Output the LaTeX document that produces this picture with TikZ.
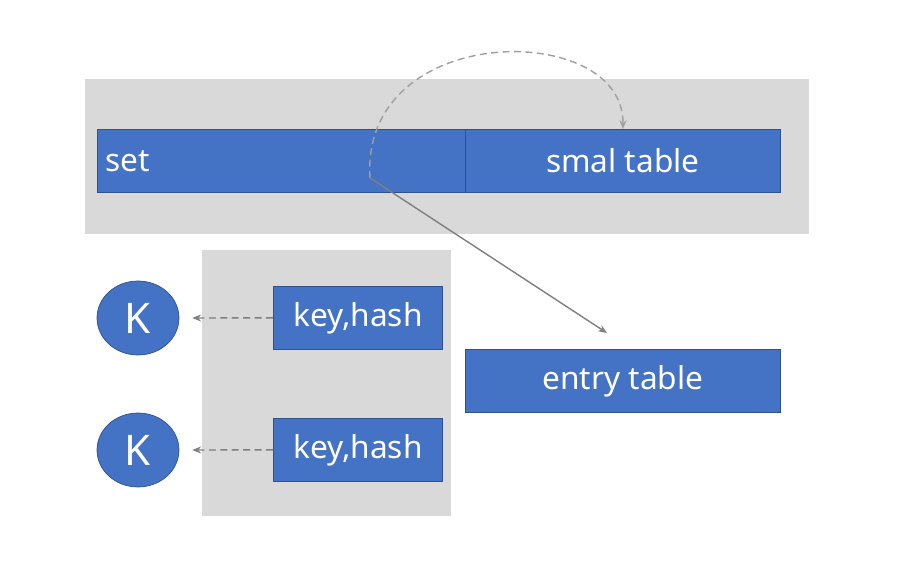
\documentclass[tikz,border=0pt]{standalone}
\usepackage{fontspec}
\setmainfont{Noto Sans}
\usetikzlibrary{calc,shapes.geometric,arrows.meta}
\definecolor{boxblue}{HTML}{4472C4}
\definecolor{boxline}{HTML}{2F528F}
\definecolor{panel}{HTML}{D9D9D9}
\definecolor{link}{HTML}{7F7F7F}
\definecolor{linklight}{HTML}{A0A0A0}
\tikzset{
  cell/.style={draw=boxline,fill=boxblue,text=white,inner sep=0pt,minimum height=1.26cm,
    font=\fontsize{18}{22}\selectfont,anchor=north west},
  keynode/.style={ellipse,draw=boxline,fill=boxblue,text=white,inner sep=0pt,
    minimum width=1.64cm,minimum height=1.48cm,font=\fontsize{24}{28}\selectfont},
  pointer/.style={link,thick,-{Stealth[length=5pt,width=4pt]}},
  backptr/.style={linklight,thick,dash pattern=on 4pt off 2.5pt,-{Stealth[length=5pt,width=4pt]}}
}

\begin{document}
\begin{tikzpicture}[x=0.02cm,y=-0.02cm]
\useasboundingbox (0,0) rectangle (905,563);
\fill[panel] (85,79) rectangle (809,234);
\fill[panel] (202,250) rectangle (451,516);
\node[cell,minimum width=7.36cm,text width=7.04cm,align=left] (set) at (97,129) {set};
\node[cell,minimum width=6.3cm] (small) at (465,129) {smal table};
\node[cell,minimum width=6.3cm] (entry) at (465,349) {entry table};
\node[cell,minimum width=3.38cm] (kh1) at (273,286) {key,hash};
\node[cell,minimum width=3.38cm] (kh2) at (273,418) {key,hash};
\node[keynode] (k1) at (138,318) {K};
\node[keynode] (k2) at (138,450) {K};
\coordinate (src) at (370,178);
\coordinate (etop) at (607,333);
\draw[backptr] (src) .. controls (360,20) and (625,20) .. (small.north);
\draw[pointer] (src) -- (etop);
\draw[backptr,link] (kh1.west) -- ($(k1.east)+(13,0)$);
\draw[backptr,link] (kh2.west) -- ($(k2.east)+(13,0)$);
\end{tikzpicture}
\end{document}
